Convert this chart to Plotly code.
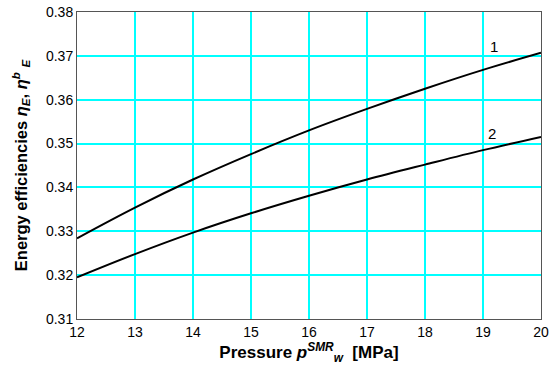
import plotly.graph_objects as go

pressure = [12, 13, 14, 15, 16, 17, 18, 19, 20]
eff_1 = [0.3284, 0.3354, 0.3418, 0.3476, 0.3530, 0.3579, 0.3625, 0.3668, 0.3707]
eff_2 = [0.3195, 0.3248, 0.3297, 0.3341, 0.3381, 0.3418, 0.3452, 0.3485, 0.3515]
curve_labels = ["1", "2"]
label_x = [19.19, 19.15]
label_y = [0.3721, 0.3523]

fig = go.Figure()
for ys in (eff_1, eff_2):
    fig.add_trace(go.Scatter(x=pressure, y=ys, mode="lines",
                             line=dict(color="black", width=2, shape="spline"),
                             showlegend=False, hoverinfo="skip"))
for t, lx, ly in zip(curve_labels, label_x, label_y):
    fig.add_annotation(x=lx, y=ly, text=t, showarrow=False,
                       font=dict(family="Liberation Sans, Arial", size=15, color="black"))

fig.update_layout(
    width=550, height=377,
    margin=dict(l=77, r=9, t=12, b=58),
    plot_bgcolor="white", paper_bgcolor="white",
    font=dict(family="Liberation Sans, Arial", size=14, color="black"),
)
fig.update_xaxes(range=[12, 20], dtick=1, tick0=12, automargin=False, ticklabeloverflow="allow",
                 showgrid=True, gridcolor="#00FFFF", gridwidth=1.5,
                 showline=True, linecolor="#555555", linewidth=1, mirror=True,
                 zeroline=False, ticks="", tickfont=dict(size=14),
                 title=dict(text="<b>Pressure <i>p</i><sup><i>SMR</i></sup><sub><i>w</i></sub>  [MPa]</b>",
                            font=dict(size=17), standoff=4))
fig.update_yaxes(range=[0.31, 0.38], dtick=0.01, tick0=0.31, tickformat=".2f", automargin=False,
                 ticklabeloverflow="allow",
                 showgrid=True, gridcolor="#00FFFF", gridwidth=1.5,
                 showline=True, linecolor="#555555", linewidth=1, mirror=True,
                 zeroline=False, ticks="", tickfont=dict(size=14),
                 title=dict(text="<b>Energy efficiencies <i>η<sub>E</sub></i>, <i>η<sup>b</sup> <sub>E</sub></i></b>",
                            font=dict(size=16.5), standoff=14))

fig.write_html("out.html", config={"displayModeBar": False},
               post_script="document.body.style.margin='0';document.body.style.overflow='hidden';")
